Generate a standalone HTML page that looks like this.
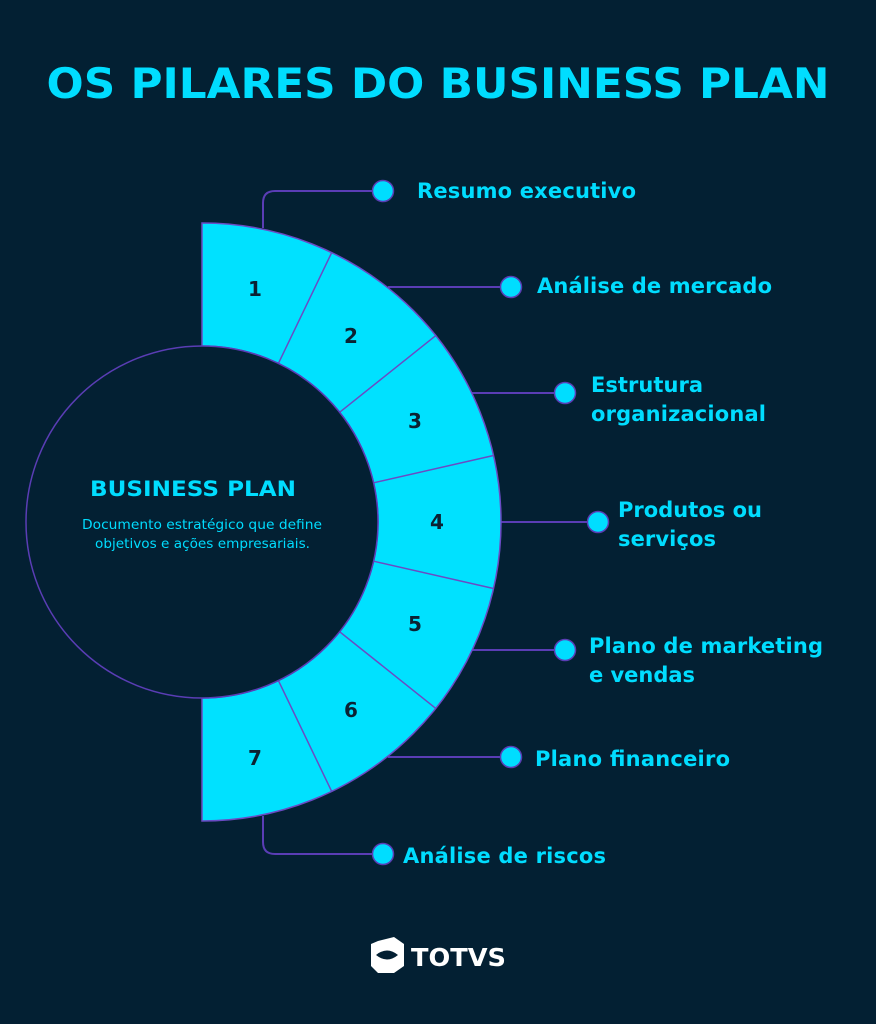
<!DOCTYPE html>
<html><head><meta charset="utf-8"><style>
html,body{margin:0;padding:0;background:#032033;}
svg{display:block;font-family:"DejaVu Sans","Liberation Sans",sans-serif;}
</style></head><body>
<svg width="876" height="1024" viewBox="0 0 876 1024">
<rect width="876" height="1024" fill="#032033"/>
<text x="438" y="98" text-anchor="middle" font-size="42" font-weight="bold" fill="#00DDFF" textLength="783" lengthAdjust="spacingAndGlyphs">OS PILARES DO BUSINESS PLAN</text>
<g fill="none" stroke="#5a3db5" stroke-width="2">
<path d="M263,228 V203 Q263,191 275,191 H380"/>
<path d="M388,287 H508"/>
<path d="M470,393 H562"/>
<path d="M501,522 H595"/>
<path d="M470,650 H562"/>
<path d="M388,757 H508"/>
<path d="M263,816 V842 Q263,854 275,854 H380"/>
</g>
<path d="M202,223 A299,299 0 0 1 202,821 L202,698 A176,176 0 0 0 202,346 Z" fill="#00E1FF" stroke="#6a4bc4" stroke-width="1.5"/>
<g stroke="#6a4bc4" stroke-width="1.5">
<line x1="331.7" y1="252.6" x2="278.4" y2="363.4"/>
<line x1="435.8" y1="335.6" x2="339.6" y2="412.3"/>
<line x1="493.5" y1="455.5" x2="373.6" y2="482.8"/>
<line x1="493.5" y1="588.5" x2="373.6" y2="561.2"/>
<line x1="435.8" y1="708.4" x2="339.6" y2="631.7"/>
<line x1="331.7" y1="791.4" x2="278.4" y2="680.6"/>
</g>
<circle cx="202" cy="522" r="176" fill="#032033" stroke="#5a3db5" stroke-width="1.5"/>
<g font-size="20" font-weight="bold" fill="#0b2233" text-anchor="middle">
<text x="255" y="296">1</text><text x="351" y="343">2</text><text x="415" y="428">3</text>
<text x="437" y="529">4</text><text x="415" y="631">5</text><text x="351" y="717">6</text><text x="255" y="765">7</text>
</g>
<text x="90" y="496" font-size="21" font-weight="bold" fill="#00DDFF" textLength="206" lengthAdjust="spacingAndGlyphs">BUSINESS PLAN</text>
<text x="82" y="529" font-size="13.5" fill="#00DDFF" textLength="240" lengthAdjust="spacingAndGlyphs">Documento estratégico que define</text>
<text x="95" y="548" font-size="13.5" fill="#00DDFF" textLength="215" lengthAdjust="spacingAndGlyphs">objetivos e ações empresariais.</text>
<g fill="#00DDFF" stroke="#5a3db5" stroke-width="1.5">
<circle cx="383" cy="191" r="10.5"/><circle cx="511" cy="287" r="10.5"/><circle cx="565" cy="393" r="10.5"/>
<circle cx="598" cy="522" r="10.5"/><circle cx="565" cy="650" r="10.5"/><circle cx="511" cy="757" r="10.5"/>
<circle cx="383" cy="854" r="10.5"/>
</g>
<g font-size="21" font-weight="bold" fill="#00DDFF" lengthAdjust="spacingAndGlyphs">
<text x="417" y="198" textLength="219">Resumo executivo</text>
<text x="537" y="293" textLength="235">Análise de mercado</text>
<text x="591" y="392" textLength="112">Estrutura</text><text x="591" y="421" textLength="175">organizacional</text>
<text x="618" y="517" textLength="144">Produtos ou</text><text x="618" y="546" textLength="98">serviços</text>
<text x="589" y="653" textLength="234">Plano de marketing</text><text x="589" y="682" textLength="106">e vendas</text>
<text x="535" y="766" textLength="195">Plano financeiro</text>
<text x="403" y="863" textLength="203">Análise de riscos</text>
</g>
<g>
<path d="M378,941 L394,937 L404,944 L404,966 L394,973 L378,973 L371,966 L371,944 Z" fill="#ffffff"/>
<path d="M376,955 Q387,946 398,955 Q387,964 376,955 Z" fill="#032033"/>
<text x="411" y="966" font-size="25" font-weight="bold" fill="#ffffff" textLength="95" lengthAdjust="spacingAndGlyphs">TOTVS</text>
</g>
</svg>
</body></html>
